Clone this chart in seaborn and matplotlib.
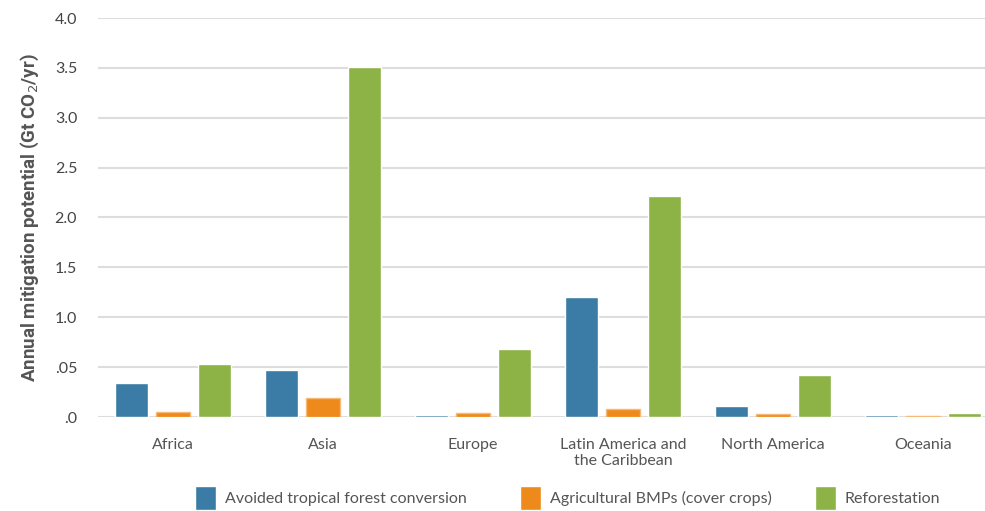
import matplotlib
matplotlib.use("Agg")
import matplotlib.pyplot as plt
from matplotlib.patches import Patch
import seaborn as sns
import pandas as pd

# Data (Gt CO2/yr)
regions = ["Africa", "Asia", "Europe", "Latin America and\nthe Caribbean", "North America", "Oceania"]
series = ["Avoided tropical forest conversion", "Agricultural BMPs (cover crops)", "Reforestation"]
avoided = [0.34, 0.47, 0.02, 1.20, 0.11, 0.02]
agri = [0.05, 0.19, 0.04, 0.08, 0.03, 0.015]
refor = [0.53, 3.51, 0.68, 2.22, 0.42, 0.04]
ytick_vals = [0, 0.5, 1.0, 1.5, 2.0, 2.5, 3.0, 3.5, 4.0]
ytick_labels = [".0", ".05", "1.0", "1.5", "2.0", "2.5", "3.0", "3.5", "4.0"]
colors = ["#3a7ca5", "#ee8a1c", "#8db347"]

rows = []
for s, vals in zip(series, [avoided, agri, refor]):
    for r, v in zip(regions, vals):
        rows.append({"region": r, "series": s, "value": v})
df = pd.DataFrame(rows)

sns.set_style("white")
plt.rcParams["font.family"] = ["Lato", "DejaVu Sans"]

fig = plt.figure(figsize=(9.85, 5.11), dpi=100)
ax = fig.add_axes([98 / 985, 94 / 511, 900 / 985, 399 / 511])

sns.barplot(data=df, x="region", y="value", hue="series", palette=colors,
            width=0.83, gap=0.2, ax=ax, legend=False, saturation=1)

# light outline on the orange bars like the original
for bar in ax.containers[1]:
    bar.set_edgecolor("#f6b978")
    bar.set_linewidth(1)

ax.set_xlim(-0.5, 5.5)
ax.set_ylim(0, 4.0)
ax.set_yticks(ytick_vals)
ax.set_yticklabels(ytick_labels)
ax.grid(axis="y", color="#dddddd", linewidth=1.5)
ax.set_axisbelow(True)
for side in ["top", "right", "left", "bottom"]:
    ax.spines[side].set_visible(False)
ax.tick_params(axis="y", length=0, pad=15, labelsize=11.5, labelcolor="#444444")
ax.tick_params(axis="x", length=0, pad=15, labelsize=11.5, labelcolor="#555555")
ax.set_xlabel("")
ax.set_ylabel("Annual mitigation potential (Gt CO$_2$/yr)", fontsize=13.5,
              fontweight="bold", color="#555555", labelpad=10,
              family=["Roboto", "DejaVu Sans"])

# legend entries placed one by one, as the gaps in the original are uneven
legend_x = [195, 520, 815]
for c, s, lx in zip(colors, series, legend_x):
    leg = fig.legend(handles=[Patch(facecolor=c, label=s)], loc="center left",
                     bbox_to_anchor=(lx / 985, 1 - 498 / 511), frameon=False,
                     fontsize=11.5, labelcolor="#555555", borderpad=0, borderaxespad=0,
                     handlelength=1.3, handleheight=1.95, handletextpad=0.55)

fig.savefig("out.png", dpi=100)
